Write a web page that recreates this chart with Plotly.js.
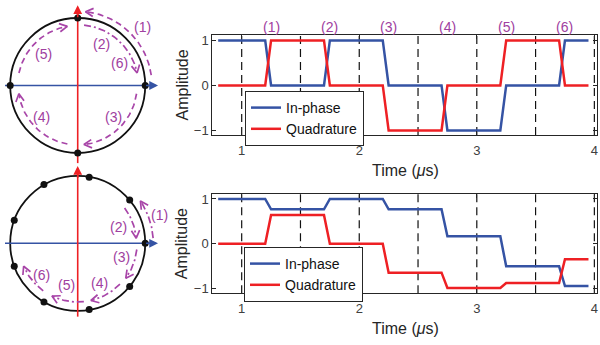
<!DOCTYPE html>
<html>
<head>
<meta charset="utf-8">
<script src="https://cdn.plot.ly/plotly-3.0.1.min.js"></script>
<style>html,body{margin:0;padding:0;background:#fff;}#chart{width:600px;height:345px;}</style>
</head>
<body>
<div id="chart"></div>
<script>
// ---------- data ----------
const time = [0.8, 1.2, 1.25, 1.7, 1.75, 2.2, 2.25, 2.7, 2.75, 3.2, 3.25, 3.7, 3.75, 3.95];
const topInPhase = [1, 1, 0, 0, 1, 1, 0, 0, -1, -1, 0, 0, 1, 1];
const topQuadrature = [0, 0, 1, 1, 0, 0, -1, -1, 0, 0, 1, 1, 0, 0];
const botInPhase = [1, 1, 0.77, 0.77, 1, 1, 0.77, 0.77, 0.17, 0.17, -0.5, -0.5, -0.94, -0.94];
const botQuadrature = [0, 0, 0.64, 0.64, 0, 0, -0.64, -0.64, -0.98, -0.98, -0.87, -0.87, -0.34, -0.34];
const symbolBoundaries = [1, 1.5, 2, 2.5, 3, 3.5, 4];
const stepLabels = ['(1)', '(2)', '(3)', '(4)', '(5)', '(6)'];
const stepTimes = [1.25, 1.75, 2.25, 2.75, 3.25, 3.75];
const xTicks = [1, 2, 3, 4];
const yTicks = [-1, 0, 1];
// constellation points (I, Q)
const topDotsI = [1, 0, -1, 0];
const topDotsQ = [0, 1, 0, -1];
const botDotsI = [1, 0.77, 0.17, -0.5, -0.94, -0.94, -0.5, 0.17, 0.77];
const botDotsQ = [0, 0.64, 0.98, 0.87, 0.34, -0.34, -0.87, -0.98, -0.64];
// transition arcs on constellation diagrams (radius, start angle, end angle in degrees)
const topArcR = [1.1, 0.9, 0.88, 0.88, 0.89];
const topArcA0 = [8, 84, -8, -100, 168];
const topArcA1 = [84, 12, -84, -172, 100];
const topArcDash = ['dash', 'dashdot', 'dash', 'dash', 'dash'];
const topArcLabels = ['(1)', '(2)', '(6)', '(5)', '(3)', '(4)'];
const topArcLabelX = [0.967, 0.356, 0.616, -0.51, 0.527, -0.533];
const topArcLabelY = [0.871, 0.61, 0.338, 0.462, -0.462, -0.471];
const botArcR = [1.12, 0.87, 0.88, 0.87, 0.87, 0.87];
const botArcA0 = [4, 37, -6, -44, -84, -126];
const botArcA1 = [34, 5, -36, -77, -116, -157];
const botArcLabels = ['(1)', '(2)', '(3)', '(4)', '(5)', '(6)'];
const botArcLabelX = [1.209, 0.601, 0.652, 0.32, -0.163, -0.533];
const botArcLabelY = [0.419, 0.246, -0.199, -0.593, -0.618, -0.47];

// ---------- style ----------
const BLUE = '#3553A4', RED = '#EE2024', PURPLE = '#A845A8', PTEXT = '#A040A0', AX = '#262626';
const FONT = 'Liberation Sans, Arial, sans-serif';
const W = 600, H = 345;

const traces = [];
const shapes = [];
const annotations = [];

// time series
function series(x, y, name, color, xa, ya, legend, show) {
  return {x: x, y: y, name: name, type: 'scatter', mode: 'lines', xaxis: xa, yaxis: ya,
          line: {color: color, width: 2.5}, legend: legend, showlegend: show, hoverinfo: 'skip'};
}
traces.push(series(time, topInPhase, 'In-phase', BLUE, 'x', 'y', 'legend', true));
traces.push(series(time, topQuadrature, 'Quadrature', RED, 'x', 'y', 'legend', true));
traces.push(series(time, botInPhase, 'In-phase', BLUE, 'x2', 'y2', 'legend2', true));
traces.push(series(time, botQuadrature, 'Quadrature', RED, 'x2', 'y2', 'legend2', true));

// dashed boundaries
[['x', 'y'], ['x2', 'y2']].forEach(function (ax) {
  symbolBoundaries.forEach(function (b) {
    shapes.push({type: 'line', xref: ax[0], yref: ax[1] + ' domain', x0: b, x1: b, y0: 0, y1: 1,
                 line: {color: '#111', width: 1.2, dash: '8px,5px'}, layer: 'below'});
  });
});

// step labels above top chart
stepTimes.forEach(function (t, i) {
  annotations.push({x: t, y: 1 - 27 / H, xref: 'x', yref: 'paper', text: stepLabels[i], showarrow: false,
                    xanchor: 'center', yanchor: 'middle',
                    font: {family: FONT, size: 14, color: PTEXT}});
});

// axis titles
function axisTitles(plotTop, plotBottom) {
  annotations.push({x: 181.5 / W, y: 1 - ((plotTop + plotBottom) / 2) / H, xref: 'paper', yref: 'paper',
                    xanchor: 'center', yanchor: 'middle',
                    text: 'Amplitude', textangle: -90, showarrow: false, font: {family: FONT, size: 16, color: AX}});
  annotations.push({x: 405 / W, y: 1 - (plotBottom + 35.5) / H, xref: 'paper', yref: 'paper',
                    xanchor: 'center', yanchor: 'middle',
                    text: 'Time (<i>\u03bc</i>s)', showarrow: false, font: {family: FONT, size: 16, color: AX}});
}
axisTitles(35, 135);
axisTitles(194, 293.3);

// ---------- constellation diagrams ----------
function diagram(xa, ya, dotsI, dotsQ, arcR, arcA0, arcA1, arcDash, labels, lx, ly, hLine, vLine) {
  shapes.push({type: 'circle', xref: xa, yref: ya, x0: -1, x1: 1, y0: -1, y1: 1,
               line: {color: '#111', width: 1.8}, layer: 'below'});
  // axis lines
  traces.push({x: [hLine[0], hLine[1] - 0.05], y: [0, 0], xaxis: xa, yaxis: ya, mode: 'lines', type: 'scatter',
               line: {color: BLUE, width: 1.6}, showlegend: false, hoverinfo: 'skip'});
  traces.push({x: [0, 0], y: [vLine[0], vLine[1] - 0.05], xaxis: xa, yaxis: ya, mode: 'lines', type: 'scatter',
               line: {color: RED, width: 1.6}, showlegend: false, hoverinfo: 'skip'});
  annotations.push({x: hLine[1], y: 0, ax: hLine[1] - 0.2, ay: 0, xref: xa, yref: ya, axref: xa, ayref: ya,
                    text: '', showarrow: true, arrowhead: 2, arrowsize: 1.1, arrowwidth: 1.6, arrowcolor: BLUE, standoff: 0});
  annotations.push({x: 0, y: vLine[1], ax: 0, ay: vLine[1] - 0.2, xref: xa, yref: ya, axref: xa, ayref: ya,
                    text: '', showarrow: true, arrowhead: 2, arrowsize: 1.1, arrowwidth: 1.6, arrowcolor: RED, standoff: 0});
  // arcs
  arcR.forEach(function (r, i) {
    const a0 = arcA0[i] * Math.PI / 180, a1 = arcA1[i] * Math.PI / 180;
    const ax = [], ay = [];
    for (let k = 0; k <= 40; k++) {
      const a = a0 + (a1 - a0) * k / 40;
      ax.push(r * Math.cos(a)); ay.push(r * Math.sin(a));
    }
    traces.push({x: ax, y: ay, xaxis: xa, yaxis: ya, mode: 'lines', type: 'scatter',
                 line: {color: PURPLE, width: 1.7, dash: arcDash[i] === 'dash' ? '6px,4px' : '7px,3px,2px,3px'},
                 showlegend: false, hoverinfo: 'skip'});
    // open V arrowhead
    const dir = a1 > a0 ? 1 : -1;
    const tx = -Math.sin(a1) * dir, ty = Math.cos(a1) * dir;
    const px = r * Math.cos(a1), py = r * Math.sin(a1);
    const L = 0.13, h = 28 * Math.PI / 180;
    function arm(s) {
      const c = Math.cos(s * h), sn = Math.sin(s * h);
      const bx = -tx, by = -ty;
      return [px + L * (bx * c - by * sn), py + L * (bx * sn + by * c)];
    }
    const p1 = arm(1), p2 = arm(-1);
    traces.push({x: [p1[0], px, p2[0]], y: [p1[1], py, p2[1]], xaxis: xa, yaxis: ya, mode: 'lines', type: 'scatter',
                 line: {color: PURPLE, width: 1.7}, showlegend: false, hoverinfo: 'skip'});
  });
  // dots
  traces.push({x: dotsI, y: dotsQ, xaxis: xa, yaxis: ya, mode: 'markers', type: 'scatter',
               marker: {color: '#111', size: 7}, showlegend: false, hoverinfo: 'skip'});
  labels.forEach(function (t, i) {
    annotations.push({x: lx[i], y: ly[i], xref: xa, yref: ya, text: t, showarrow: false,
                      xanchor: 'center', yanchor: 'middle',
                      font: {family: FONT, size: 14, color: PTEXT}});
  });
}
diagram('x3', 'y3', topDotsI, topDotsQ, topArcR, topArcA0, topArcA1, topArcDash,
        topArcLabels, topArcLabelX, topArcLabelY, [-1.077, 1.19], [-1.15, 1.19]);
diagram('x4', 'y4', botDotsI, botDotsQ, botArcR, botArcA0, botArcA1, ['dashdot', 'dashdot', 'dashdot', 'dashdot', 'dashdot', 'dashdot'],
        botArcLabels, botArcLabelX, botArcLabelY, [-1.077, 1.19], [-1.087, 1.145]);

// ---------- layout ----------
function tsX(anchor) {
  return {domain: [212.3 / W, 597.3 / W], range: [0.75, 4.025], anchor: anchor, tickvals: xTicks,
          ticks: 'inside', ticklen: 4, tickcolor: AX, showline: true, linecolor: AX, linewidth: 1, mirror: 'ticks',
          ticklabelstandoff: 3,
          showgrid: false, zeroline: false, tickfont: {family: FONT, size: 13, color: '#404040'}};
}
function tsY(anchor, dom, rng) {
  return {domain: dom, range: rng, anchor: anchor, tickvals: yTicks,
          ticks: 'inside', ticklen: 4, tickcolor: AX, showline: true, linecolor: AX, linewidth: 1, mirror: 'ticks',
          showgrid: false, zeroline: false, tickfont: {family: FONT, size: 13, color: '#404040'}};
}
function hidden(anchor, dom, rng) {
  return {domain: dom, range: rng, anchor: anchor, visible: false, showgrid: false, zeroline: false, fixedrange: true};
}
const legendStyle = {bgcolor: '#fff', bordercolor: AX, borderwidth: 1, font: {family: FONT, size: 14, color: '#111'},
                     xanchor: 'left', yanchor: 'top', tracegroupgap: 0};
const layout = {
  width: W, height: H, margin: {l: 0, r: 0, t: 0, b: 0}, paper_bgcolor: '#fff', plot_bgcolor: 'rgba(0,0,0,0)',
  font: {family: FONT},
  xaxis: tsX('y'),
  yaxis: tsY('x', [1 - 135 / H, 1 - 35 / H], [-1.1, 1.12]),
  xaxis2: tsX('y2'),
  yaxis2: tsY('x2', [1 - 293.3 / H, 1 - 194 / H], [-1.1, 1.11]),
  xaxis3: hidden('y3', [0, 170 / W], [-1.151, 1.367]),
  yaxis3: hidden('x3', [1 - 165 / H, 1], [-1.178, 1.267]),
  xaxis4: hidden('y4', [0, 170 / W], [-1.151, 1.367]),
  yaxis4: hidden('x4', [0, 1 - 165 / H], [-1.507, 1.16]),
  legend: Object.assign({x: 245 / W, y: 1 - 91 / H}, legendStyle),
  legend2: Object.assign({x: 244 / W, y: 1 - 247 / H}, legendStyle),
  shapes: shapes,
  annotations: annotations,
  showlegend: true
};
Plotly.newPlot('chart', traces, layout, {staticPlot: true, displayModeBar: false});
</script>
</body>
</html>
